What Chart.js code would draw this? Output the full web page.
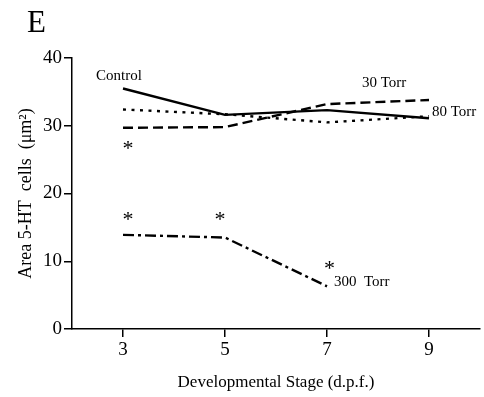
<!DOCTYPE html>
<html>
<head>
<meta charset="utf-8">
<script src="https://cdn.jsdelivr.net/npm/chart.js@4/dist/chart.umd.min.js"></script>
<style>
  html, body { margin: 0; padding: 0; background: #fff; }
  #wrap { width: 484px; height: 397px; position: relative; }
</style>
</head>
<body>
<div id="wrap"><canvas id="myChart" width="484" height="397"></canvas></div>
<script>
// developmental stage (days post fertilisation)
var stages = [3, 5, 7, 9];
var control = [35.5, 31.6, 32.3, 31.1];
var torr30 = [29.7, 29.8, 33.2, 33.8];
var torr80 = [32.4, 31.7, 30.5, 31.4];
var torr300 = [13.9, 13.5, 6.3];
var yTicks = [0, 10, 20, 30, 40];

// significance markers (x, y in data units)
var stars = [[3.1, 27.1], [3.1, 16.7], [4.9, 16.7], [7.05, 9.4]];

function pts(ys) {
  return ys.map(function(v, i) { return { x: stages[i], y: v }; });
}

var serif = '"Liberation Serif", "DejaVu Serif", serif';

// series names and stars written on top of the plot
var notes = {
  id: 'notes',
  afterDatasetsDraw: function(chart) {
    var ctx = chart.ctx;
    var xs = chart.scales.x, ys = chart.scales.y;
    ctx.save();
    ctx.fillStyle = '#000';
    ctx.textBaseline = 'middle';
    ctx.textAlign = 'left';

    ctx.font = '31px ' + serif;
    ctx.fillText('E', 27, 24);

    ctx.font = '15px ' + serif;
    ctx.fillText('Control', 96, 76);
    ctx.fillText('30 Torr', 362, 83);
    ctx.fillText('80 Torr', 432, 112);
    ctx.fillText('300  Torr', 334, 282);

    ctx.font = '22px ' + serif;
    ctx.textAlign = 'center';
    stars.forEach(function(s) {
      ctx.fillText('*', xs.getPixelForValue(s[0]), ys.getPixelForValue(s[1]) + 4);
    });
    ctx.restore();
  }
};

function line(label, data, dash) {
  return {
    label: label,
    data: data,
    borderColor: '#000',
    backgroundColor: '#000',
    borderWidth: 2.4,
    borderDash: dash,
    pointRadius: 0,
    tension: 0,
    fill: false
  };
}

var ctx = document.getElementById('myChart').getContext('2d');
var myChart = new Chart(ctx, {
  type: 'line',
  data: {
    datasets: [
      line('Control', pts(control), []),
      line('30 Torr', pts(torr30), [10, 5]),
      line('80 Torr', pts(torr80), [3, 5.5]),
      line('300 Torr', pts(torr300), [11, 4, 3, 4])
    ]
  },
  options: {
    responsive: false,
    animation: false,
    events: [],
    layout: { padding: { top: 58, right: 4, left: 0, bottom: 0 } },
    plugins: {
      legend: { display: false },
      tooltip: { enabled: false }
    },
    scales: {
      x: {
        type: 'linear',
        min: 2,
        max: 10,
        afterBuildTicks: function(s) {
          s.ticks = stages.map(function(v) { return { value: v }; });
        },
        afterFit: function(s) { s.height = 68; },
        grid: { drawOnChartArea: false, drawTicks: true, tickLength: 8, color: '#000', lineWidth: 1.5 },
        border: { color: '#000', width: 1.5 },
        ticks: { color: '#000', font: { family: serif, size: 19 }, padding: 2 },
        title: {
          display: true,
          text: 'Developmental Stage (d.p.f.)',
          color: '#000',
          font: { family: serif, size: 17 },
          padding: { top: 8 }
        }
      },
      y: {
        min: 0,
        max: 40,
        afterBuildTicks: function(s) {
          s.ticks = yTicks.map(function(v) { return { value: v }; });
        },
        afterFit: function(s) { s.width = 72; },
        grid: { drawOnChartArea: false, drawTicks: true, tickLength: 8, color: '#000', lineWidth: 1.5 },
        border: { color: '#000', width: 1.5 },
        ticks: { color: '#000', font: { family: serif, size: 19 }, padding: 2 },
        title: {
          display: true,
          text: 'Area 5-HT  cells  (\u03bcm\u00b2)',
          color: '#000',
          font: { family: serif, size: 18 },
          padding: { top: 15, bottom: 0 }
        }
      }
    }
  },
  plugins: [notes]
});
</script>
</body>
</html>
